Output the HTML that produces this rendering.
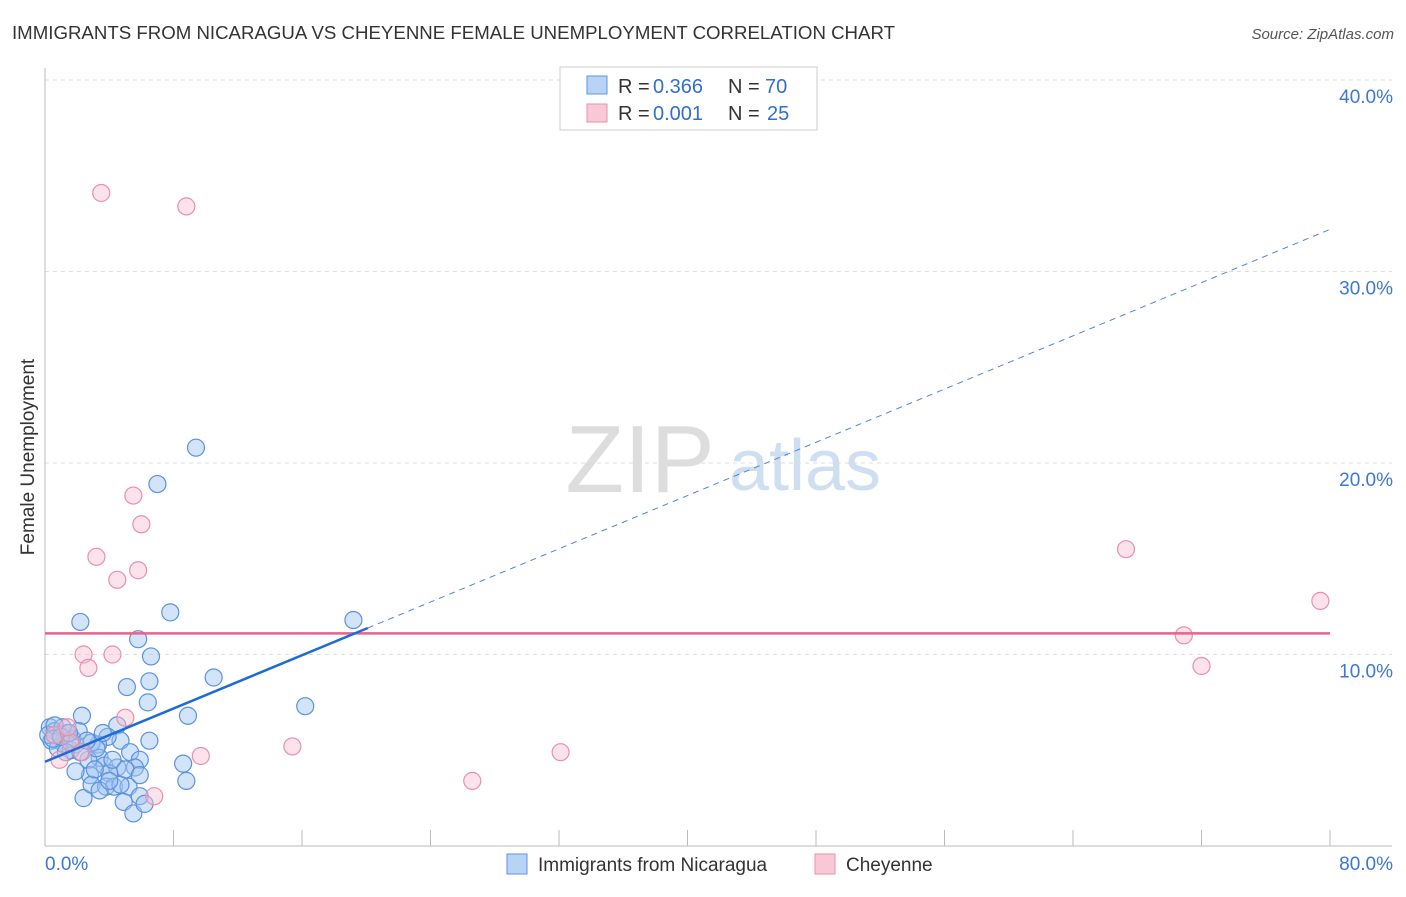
<!DOCTYPE html>
<html><head><meta charset="utf-8"><style>
body{margin:0;background:#fff;font-family:"Liberation Sans",sans-serif;}
svg text{font-family:"Liberation Sans",sans-serif;}
</style></head><body>
<svg id="chart" width="1406" height="892">
<text x="12" y="39" font-size="18" fill="#333" textLength="883" lengthAdjust="spacingAndGlyphs">IMMIGRANTS FROM NICARAGUA VS CHEYENNE FEMALE UNEMPLOYMENT CORRELATION CHART</text>
<text x="1394" y="39" font-size="15" fill="#555" font-style="italic" text-anchor="end">Source: ZipAtlas.com</text>
<text x="34" y="457" font-size="19" fill="#333" text-anchor="middle" transform="rotate(-90 34 457)">Female Unemployment</text>
<g>
<text x="640" y="492" font-size="96" fill="#ddd" font-family="Liberation Serif" text-anchor="middle">ZIP</text>
<text x="805" y="490" font-size="72" fill="#cfdff2" text-anchor="middle">atlas</text>
</g>
<g id="grid"></g><g id="axes"></g><g id="marks"></g>
<g>
<rect x="560" y="67" width="257" height="63" fill="#fff" stroke="#ccc"/>
<rect x="587" y="76" width="20" height="18" fill="#b8d3f5" stroke="#5d95e0"/>
<rect x="587" y="104" width="20" height="18" fill="#f9c8d7" stroke="#ea8fab"/>
<text x="618" y="93" font-size="20" fill="#333">R =</text>
<text x="653" y="93" font-size="20" fill="#2f6fd1">0.366</text>
<text x="728" y="93" font-size="20" fill="#333">N =</text>
<text x="765" y="93" font-size="20" fill="#2f6fd1">70</text>
<text x="618" y="120" font-size="20" fill="#333">R =</text>
<text x="653" y="120" font-size="20" fill="#2f6fd1">0.001</text>
<text x="728" y="120" font-size="20" fill="#333">N =</text>
<text x="767" y="120" font-size="20" fill="#2f6fd1">25</text>
</g>
<g>
<rect x="507" y="854" width="20" height="20" fill="#b8d3f5" stroke="#5d95e0"/>
<text x="538" y="871" font-size="19" fill="#333">Immigrants from Nicaragua</text>
<rect x="815" y="854" width="20" height="20" fill="#f9c8d7" stroke="#ea8fab"/>
<text x="846" y="871" font-size="19" fill="#333">Cheyenne</text>
</g>
</svg>
<script>
const blueX=[9.4,7.0,7.8,2.2,19.2,5.8,6.6,6.5,10.5,5.1,6.4,16.2,8.9,2.3,4.5,6.5,4.7,3.9,5.3,5.9,8.6,8.8,3.3,3.4,2.7,3.7,4.5,4.0,2.8,1.9,2.4,2.9,3.8,4.3,5.2,5.9,4.9,5.5,6.2,4.7,5.6,1.4,0.3,0.6,0.4,0.9,1.2,1.6,0.8,1.1,0.2,1.9,2.2,1.7,1.3,2.1,0.6,2.9,3.2,2.6,3.6,4.2,5.0,5.9,3.1,3.4,4.0,0.5,1.0,1.5];
const blueY=[20.8,18.9,12.2,11.7,11.8,10.8,9.9,8.6,8.8,8.3,7.5,7.3,6.8,6.8,6.3,5.5,5.5,5.7,4.9,4.5,4.3,3.4,5.3,4.6,4.5,4.2,4.1,3.8,3.7,3.9,2.5,3.2,3.1,3.1,3.1,2.6,2.3,1.7,2.2,3.2,4.1,5.9,6.2,6.0,5.5,5.8,5.3,5.0,5.1,6.2,5.8,5.3,4.9,5.6,4.9,6.0,6.3,5.4,5.1,5.5,5.9,4.5,4.0,3.7,4.0,2.9,3.4,5.6,5.7,5.9];
const pinkX=[3.5,8.8,5.5,6.0,3.2,5.8,4.5,67.3,79.4,70.9,72.0,2.4,4.2,2.7,5.0,15.4,32.1,26.6,9.7,6.8,0.9,1.6,0.6,1.4,2.3];
const pinkY=[34.1,33.4,18.3,16.8,15.1,14.4,13.9,15.5,12.8,11.0,9.4,10.0,10.0,9.3,6.7,5.2,4.9,3.4,4.7,2.6,4.5,5.4,5.8,6.2,4.9];
const yTicks=[10,20,30,40];
const yTickLabels=["10.0%","20.0%","30.0%","40.0%"];
const xEdgeLabels=["0.0%","80.0%"];
const blueTrend=[4.4,32.2];
const blueSolidEnd=20.1;
const pinkTrend=11.1;
const NS="http://www.w3.org/2000/svg";
const X=v=>45+v/80*1285, Y=v=>846-v*19.15;
function mk(p,t,a){const e=document.createElementNS(NS,t);for(const k in a)e.setAttribute(k,a[k]);p.appendChild(e);return e;}
const grid=document.getElementById('grid'),axes=document.getElementById('axes'),marks=document.getElementById('marks');
yTicks.forEach((t,i)=>{
 const l=mk(grid,'line',{x1:45,x2:1392,y1:Y(t),y2:Y(t),stroke:'#ddd','stroke-dasharray':'4,4'});
 
 
 const tx=mk(axes,'text',{x:1393,y:Y(t)+23,'font-size':19,fill:'#3a78d4','text-anchor':'end'});
 tx.textContent=yTickLabels[i];
 
 
});
mk(axes,'line',{x1:45,x2:45,y1:68,y2:846,stroke:'#bbb'});
mk(axes,'line',{x1:45,x2:1392,y1:846,y2:846,stroke:'#bbb'});
for(let i=0;i<=10;i++){mk(axes,'line',{x1:X(i*8),x2:X(i*8),y1:830,y2:846,stroke:'#bbb'});}
const xl=mk(axes,'text',{x:45,y:870,'font-size':19,fill:'#3a78d4'});xl.textContent=xEdgeLabels[0];


const xr=mk(axes,'text',{x:1393,y:870,'font-size':19,fill:'#3a78d4','text-anchor':'end'});xr.textContent=xEdgeLabels[1];


blueX.forEach((x,i)=>{const c=mk(marks,'circle',{cx:X(x),cy:Y(blueY[i]),r:8.5,fill:'rgba(160,195,240,0.45)',stroke:'#5a92df','stroke-width':1.2});
 
 });
pinkX.forEach((x,i)=>{const c=mk(marks,'circle',{cx:X(x),cy:Y(pinkY[i]),r:8.5,fill:'rgba(248,190,208,0.45)',stroke:'#e890aa','stroke-width':1.2});
 
 });
const tY=x=>blueTrend[0]+(blueTrend[1]-blueTrend[0])*x/80;
const pl=mk(marks,'line',{x1:X(0),x2:X(80),y1:Y(pinkTrend),y2:Y(pinkTrend),stroke:'#e8628c','stroke-width':2.5});


const bs=mk(marks,'line',{x1:X(0),x2:X(blueSolidEnd),y1:Y(tY(0)),y2:Y(tY(blueSolidEnd)),stroke:'#1f6ad8','stroke-width':2.5});


const bd=mk(marks,'line',{x1:X(blueSolidEnd),x2:X(80),y1:Y(tY(blueSolidEnd)),y2:Y(tY(80)),stroke:'#4a86db','stroke-width':1,'stroke-dasharray':'6,5'});


</script>
</body></html>
